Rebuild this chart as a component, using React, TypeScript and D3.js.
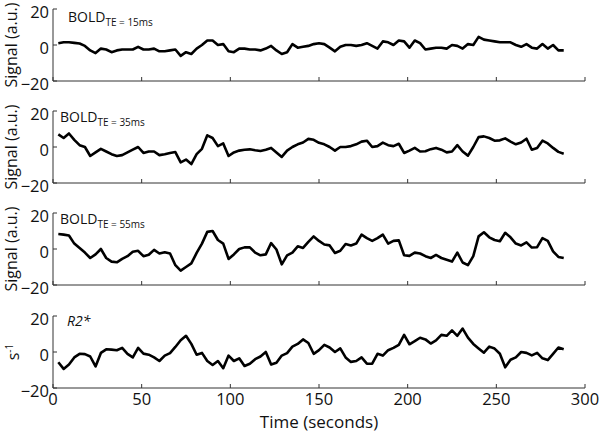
import React from "react";
import * as d3 from "d3";

const times: number[] = Array.from({ length: 96 }, (_, i) => 3 + i * 3);

const bold15: number[] = [
  1, 1.5, 1.5, 1.2, 0.8, -0.5, -3, -4.5, -2, -2.5, -4, -3, -2.5, -2.5, -2.5, -1,
  -2.5, -2.5, -2, -3.5, -3.5, -3, -2.5, -6, -4, -5, -2, 0, 2.5, 2.5, 0, 0.5,
  -3.5, -4, -2, -2, -2.5, -2.5, -3, -2, -0.5, -3, -5, -4, 0.5, -1.5, -1, -0.5,
  0.5, 1, 0.5, -1.5, -3.5, -1, 0, 0, -0.5, 0, 1, -0.5, -2, 2, 1.5, 0, 2.5, 2,
  -1.5, 2.5, 1, -2.5, -2, -1.5, -1.5, -2, 0, -0.5, -2, 0.5, 0, 4.5, 3, 2.5,
  2, 1.5, 1.5, 1.5, 0, -1, 0.5, -1.5, -2, 0.5, -2, 0, -3, -3,
];

const bold35: number[] = [
  7, 5, 7.5, 4, 1, 0, -5, -3, -1, -2.5, -4, -5, -4.5, -3, -1.5, 0,
  -3.3, -2.5, -2.5, -4.5, -4, -3.3, -2.8, -8.5, -7, -9.5, -4, -1, 6.5, 5, 0.5, 2,
  -5, -3, -2, -1.5, -1.3, -1.8, -2.2, -1.5, -0.5, -3, -5.5, -2, 0, 1.5, 2.5, 4.5,
  4, 2.3, 1.5, 0, -2, 0, 0, 0.5, 1.5, 3, 3.5, 0, 0.5, 2.4, 1, 0.5, 1.8, -3.3,
  -2, -0.5, -2.5, -2.4, -1.2, -0.5, -1.5, -3, -2.5, 1, -2.5, -4.8, 0, 5.5, 5.9, 5,
  3.5, 3.7, 4.8, 3, 1.5, 2.5, 4.6, -1.5, -0.5, 3.5, 2, -0.5, -2.7, -3.7,
];

const bold55: number[] = [
  8.3, 8, 7.5, 3, 0.5, -2, -5, -3, 0, -5, -7, -7.4, -5.5, -4, -1.5, -1,
  -4, -3.2, -0.5, -2.5, -1.8, -2.5, -9, -12, -10, -8, -2.2, 3, 9.5, 10, 5, 3,
  -5.5, -3, 0, 0.9, 0.9, -2, -3.5, -3, 3.3, -0.3, -8.5, -3.5, -2, 1.5, 0.6, 4,
  7, 4.5, 2.5, 2, -2.2, -1, 2.8, 2, 3, 8, 6, 4.5, 6, 8, 3, 4.5, 4.8, -3.5,
  -3.8, -2, -2.5, -4, -5, -3.3, -5, -6, -7, -2, -7.5, -9, -4, 7, 9.3, 6.5,
  5, 4.3, 9, 6.5, 3, 2, 3.7, 0.8, 1, 6, 4.5, -1.3, -4.4, -5,
];

const r2star: number[] = [
  -5.7, -9.4, -7, -3, -1, -1.2, -2.5, -8, -0.5, 1.5, 1.3, 1, 2.3, -1, -3, 2.3,
  -0.9, -1.5, -3, -5, -2, -0.6, 2.8, 6.5, 9, 4.5, -1.5, -0.5, -5, -7.2, -5, -9,
  -2, -5, -3.5, -7.8, -6.5, -4, -2.5, 0, -7, -6, -2, -0.6, 3, 4.5, 7, 5,
  -1, 1, 4, 2.5, 0, 2, -3, -5.5, -5, -3, -6.5, -6.5, -1, -2, 1, 2.3, 4, 9.5,
  4.3, 6, 7.9, 7, 4.7, 6.5, 9.5, 9, 12, 9, 13, 8, 4.5, 2, -0.4, 3,
  1.9, -1, -8.5, -4.3, -3, 0, -0.5, -1.9, -0.5, -3.5, -4.5, -1, 2.5, 1.5,
];

const panelTitles = ["BOLD", "BOLD", "BOLD", "R2*"];
const panelSubs = ["TE = 15ms", "TE = 35ms", "TE = 55ms", ""];
const yLabels = ["Signal (a.u.)", "Signal (a.u.)", "Signal (a.u.)", "s"];
const xTicks = [0, 50, 100, 150, 200, 250, 300];
const yTicks = [-20, 0, 20];
const xAxisTitle = "Time (seconds)";

const series = [bold15, bold35, bold55, r2star];

const W = 600;
const H = 433;
const left = 53;
const right = 585;
const panelTops = [9, 111, 213, 316];
const panelH = 72;
const font = "'Open Sans', 'Noto Sans', sans-serif";

export default function App() {
  const x = d3.scaleLinear().domain([0, 300]).range([left, right]);
  return (
    <svg
      width={W}
      height={H}
      style={{ position: "absolute", left: 0, top: 0, background: "#fff" }}
      fontFamily={font}
    >
      {series.map((vals, pi) => {
        const top = panelTops[pi];
        const y = d3.scaleLinear().domain([-20, 20]).range([top + panelH, top]);
        const line = d3
          .line<number>()
          .x((_, i) => x(times[i]))
          .y((v) => y(v));
        const mid = top + panelH / 2;
        return (
          <g key={pi}>
            <line x1={left} x2={left} y1={top} y2={top + panelH} stroke="#333" strokeWidth={1} />
            <line x1={left} x2={right} y1={top + panelH} y2={top + panelH} stroke="#333" strokeWidth={1} />
            {yTicks.map((t) => (
              <g key={t}>
                <line x1={left} x2={left + 4} y1={y(t)} y2={y(t)} stroke="#333" strokeWidth={1} />
                <text
                  x={left - 4}
                  y={y(t) + 2}
                  textAnchor="end"
                  dominantBaseline="central"
                  fontSize={16.5}
                  fill="#111"
                >
                  {t < 0 ? "\u2212" + Math.abs(t) : String(t)}
                </text>
              </g>
            ))}
            {xTicks.map((t) => (
              <g key={t}>
                <line x1={x(t)} x2={x(t)} y1={top + panelH} y2={top + panelH - 4} stroke="#333" strokeWidth={1} />
                {pi === 3 && (
                  <text x={x(t)} y={top + panelH + 17} textAnchor="middle" fontSize={16.5} fill="#111">
                    {t}
                  </text>
                )}
              </g>
            ))}
            <path d={line(vals) || ""} fill="none" stroke="#000" strokeWidth={2.6} strokeLinejoin="round" />
            {pi < 3 ? (
              <text x={pi === 0 ? 68 : 60} y={top + (pi === 0 ? 13 : 11)} fontSize={14} fill="#111">
                {panelTitles[pi]}
                <tspan fontSize={10} dy={4}>
                  {panelSubs[pi]}
                </tspan>
              </text>
            ) : (
              <text x={67} y={top + 10} fontSize={14} fontStyle="italic" fill="#111">
                {panelTitles[pi]}
              </text>
            )}
            {pi < 3 ? (
              <text
                transform={`translate(17,${mid}) rotate(-90)`}
                textAnchor="middle"
                fontSize={16}
                fill="#111"
              >
                {yLabels[pi]}
              </text>
            ) : (
              <text transform={`translate(19,${mid}) rotate(-90)`} textAnchor="middle" fontSize={16} fill="#111">
                {yLabels[pi]}
                <tspan fontSize={10} dy={-6}>
                  -1
                </tspan>
              </text>
            )}
          </g>
        );
      })}
      <text x={(left + right) / 2} y={428} textAnchor="middle" fontSize={17} fill="#111">
        {xAxisTitle}
      </text>
    </svg>
  );
}
